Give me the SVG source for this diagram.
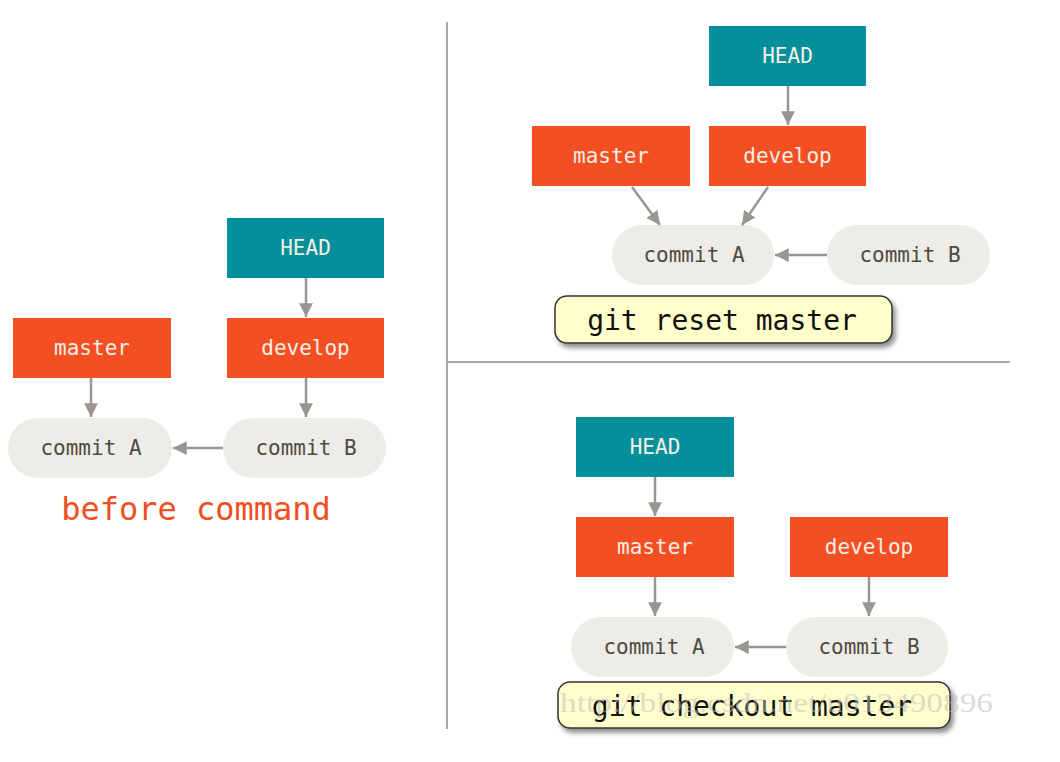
<svg xmlns="http://www.w3.org/2000/svg" width="1060" height="762" viewBox="0 0 1060 762">
<style>
.head{fill:#058f9b}
.br{fill:#f34f22}
.cm{fill:#edece6}
.lt{font-family:"DejaVu Sans Mono",monospace;font-size:21px;fill:#f2efe6;text-anchor:middle}
.ct{font-family:"DejaVu Sans Mono",monospace;font-size:21px;fill:#4d4a44;text-anchor:middle}
.cmd{font-family:"DejaVu Sans Mono","Liberation Mono",monospace;font-size:28px;fill:#111;text-anchor:middle}
.cbox{fill:#ffffcc;stroke:#333;stroke-width:1.5}
.ln{stroke:#999590;stroke-width:2.5;fill:none;marker-end:url(#ah)}
.div{stroke:#a8a8a8;stroke-width:2}
</style>
<defs>
<marker id="ah" viewBox="0 0 10 10" refX="10" refY="5" markerWidth="5.5" markerHeight="5.5" orient="auto" markerUnits="strokeWidth">
<path d="M0,0 L10,5 L0,10 z" fill="#999590"/>
</marker>
<filter id="sh" x="-10%" y="-30%" width="130%" height="170%">
<feDropShadow dx="3" dy="4" stdDeviation="2.5" flood-color="#000" flood-opacity="0.45"/>
</filter>
</defs>
<rect width="1060" height="762" fill="#fff"/>
<g id="dividers">
<line class="div" x1="447" y1="22" x2="447" y2="729"/>
<line class="div" x1="447" y1="362" x2="1010" y2="362"/>
</g>
<g id="left-head"><rect class="head" x="227" y="218" width="157" height="60"/><text class="lt" x="305.5" y="255">HEAD</text></g>
<g id="left-master"><rect class="br" x="13" y="318" width="158" height="60"/><text class="lt" x="92" y="355">master</text></g>
<g id="left-develop"><rect class="br" x="227" y="318" width="157" height="60"/><text class="lt" x="305.5" y="355">develop</text></g>
<g id="left-commitA"><rect class="cm" x="8" y="418" width="164" height="60" rx="30"/><text class="ct" x="91" y="455">commit A</text></g>
<g id="left-commitB"><rect class="cm" x="223" y="418" width="163" height="60" rx="30"/><text class="ct" x="306" y="455">commit B</text></g>
<g id="left-caption"><text x="196" y="520" style="font-family:'DejaVu Sans Mono',monospace;font-size:32px;fill:#f04e23;text-anchor:middle">before command</text></g>
<g id="tr-head"><rect class="head" x="709" y="26" width="157" height="60"/><text class="lt" x="787.5" y="63">HEAD</text></g>
<g id="tr-master"><rect class="br" x="532" y="126" width="158" height="60"/><text class="lt" x="611" y="163">master</text></g>
<g id="tr-develop"><rect class="br" x="709" y="126" width="157" height="60"/><text class="lt" x="787.5" y="163">develop</text></g>
<g id="tr-commitA"><rect class="cm" x="612" y="225" width="162" height="60" rx="30"/><text class="ct" x="694" y="262">commit A</text></g>
<g id="tr-commitB"><rect class="cm" x="827" y="225" width="163" height="60" rx="30"/><text class="ct" x="910" y="262">commit B</text></g>
<g id="tr-cmd"><rect class="cbox" x="555" y="296" width="337" height="47" rx="12" filter="url(#sh)"/><text class="cmd" x="722" y="330">git reset master</text></g>
<g id="br-head"><rect class="head" x="576" y="417" width="158" height="60"/><text class="lt" x="655" y="454">HEAD</text></g>
<g id="br-master"><rect class="br" x="576" y="517" width="158" height="60"/><text class="lt" x="655" y="554">master</text></g>
<g id="br-develop"><rect class="br" x="790" y="517" width="158" height="60"/><text class="lt" x="869" y="554">develop</text></g>
<g id="br-commitA"><rect class="cm" x="571" y="617" width="163" height="60" rx="30"/><text class="ct" x="654" y="654">commit A</text></g>
<g id="br-commitB"><rect class="cm" x="786" y="617" width="162" height="60" rx="30"/><text class="ct" x="869" y="654">commit B</text></g>
<g id="br-cmd"><rect class="cbox" x="558" y="682" width="392" height="46" rx="12" filter="url(#sh)"/><text class="cmd" x="752" y="716">git checkout master</text></g>
<g id="connectors">
<line class="ln" x1="306" y1="278" x2="306" y2="317"/>
<line class="ln" x1="91" y1="378" x2="91" y2="417"/>
<line class="ln" x1="306" y1="378" x2="306" y2="417"/>
<line class="ln" x1="223" y1="448" x2="173" y2="448"/>
<line class="ln" x1="788" y1="86" x2="788" y2="125"/>
<line class="ln" x1="632" y1="187" x2="660" y2="225"/>
<line class="ln" x1="768" y1="187" x2="742" y2="225"/>
<line class="ln" x1="827" y1="255" x2="775" y2="255"/>
<line class="ln" x1="655" y1="477" x2="655" y2="516"/>
<line class="ln" x1="655" y1="577" x2="655" y2="616"/>
<line class="ln" x1="869" y1="577" x2="869" y2="616"/>
<line class="ln" x1="786" y1="647" x2="735" y2="647"/>
</g>
<g id="watermark"><text x="560" y="712" textLength="433" lengthAdjust="spacingAndGlyphs" style="font-family:'Liberation Serif',serif;font-size:28px;fill:#bdbdbd;fill-opacity:0.55">http://blog.csdn.net/u013490896</text></g>
</svg>
